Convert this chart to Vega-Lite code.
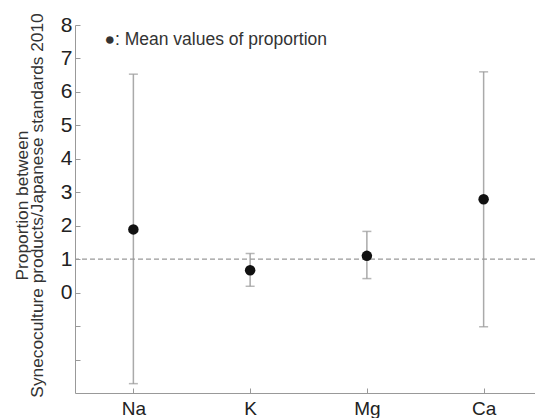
{
  "$schema": "https://vega.github.io/schema/vega-lite/v6.json",
  "autosize": {"type": "none"},
  "padding": {"left": 75, "top": 25, "right": 0, "bottom": 25},
  "width": 460,
  "height": 368,
  "background": "white",
  "config": {
    "view": {"stroke": null},
    "font": "Liberation Sans",
    "axis": {"labelOverlap": false}
  },
  "data": {
    "values": [
      {"element": "Na", "mean": 1.89, "low": -2.72, "high": 6.53},
      {"element": "K", "mean": 0.67, "low": 0.19, "high": 1.17},
      {"element": "Mg", "mean": 1.1, "low": 0.42, "high": 1.83},
      {"element": "Ca", "mean": 2.79, "low": -1.02, "high": 6.6}
    ]
  },
  "encoding": {
    "x": {
      "field": "element",
      "type": "nominal",
      "sort": ["Na", "K", "Mg", "Ca"],
      "scale": {"type": "point", "padding": 0.5, "range": [0, 467]},
      "axis": {
        "title": null,
        "labelAngle": 0,
        "labelFontSize": 19,
        "labelColor": "#222",
        "labelPadding": 11,
        "tickSize": -5,
        "tickColor": "#999",
        "domainColor": "#999",
        "grid": false
      }
    }
  },
  "layer": [
    {
      "mark": {"type": "rule", "color": "#aaaaaa", "strokeWidth": 1.5},
      "encoding": {
        "y": {
          "field": "low",
          "type": "quantitative",
          "scale": {"domain": [-3, 8], "nice": false, "zero": false},
          "axis": {
            "title": ["Proportion between", "Synecoculture products/Japanese standards 2010"],
            "titleFontSize": 17.3,
            "titleFontWeight": "normal",
            "titleColor": "#333",
            "titleLineHeight": 15,
            "titlePadding": 14,
            "titleY": 180,
            "values": [-2, -1, 0, 1, 2, 3, 4, 5, 6, 7, 8],
            "labelOverlap": false,
            "labelExpr": "datum.value < 0 ? '' : datum.label",
            "labelFontSize": 21,
            "labelColor": "#222",
            "labelPadding": 8,
            "tickSize": -5,
            "tickColor": "#999",
            "domainColor": "#999",
            "grid": false
          }
        },
        "y2": {"field": "high"}
      }
    },
    {
      "mark": {"type": "tick", "orient": "horizontal", "color": "#999999", "size": 9, "thickness": 1.5},
      "encoding": {"y": {"field": "low", "type": "quantitative", "axis": {"values": [-2, -1, 0, 1, 2, 3, 4, 5, 6, 7, 8]}}}
    },
    {
      "mark": {"type": "tick", "orient": "horizontal", "color": "#999999", "size": 9, "thickness": 1.5},
      "encoding": {"y": {"field": "high", "type": "quantitative", "axis": {"values": [-2, -1, 0, 1, 2, 3, 4, 5, 6, 7, 8]}}}
    },
    {
      "data": {"values": [{"ref": 1}]},
      "mark": {"type": "rule", "color": "#999999", "strokeDash": [5, 3], "strokeWidth": 1.2},
      "encoding": {"y": {"field": "ref", "type": "quantitative", "axis": {"values": [-2, -1, 0, 1, 2, 3, 4, 5, 6, 7, 8]}}, "x": null}
    },
    {
      "mark": {"type": "circle", "color": "#111111", "opacity": 1, "size": 110},
      "encoding": {"y": {"field": "mean", "type": "quantitative", "axis": {"values": [-2, -1, 0, 1, 2, 3, 4, 5, 6, 7, 8]}}}
    },
    {
      "data": {"values": [{"label": "●: Mean values of proportion", "element": "Na", "yv": 7.55}]},
      "mark": {"type": "text", "align": "left", "baseline": "middle", "fontSize": 17.5, "color": "#333", "dx": -29},
      "encoding": {
        "y": {"field": "yv", "type": "quantitative", "axis": {"values": [-2, -1, 0, 1, 2, 3, 4, 5, 6, 7, 8]}},
        "text": {"field": "label"}
      }
    }
  ]
}
